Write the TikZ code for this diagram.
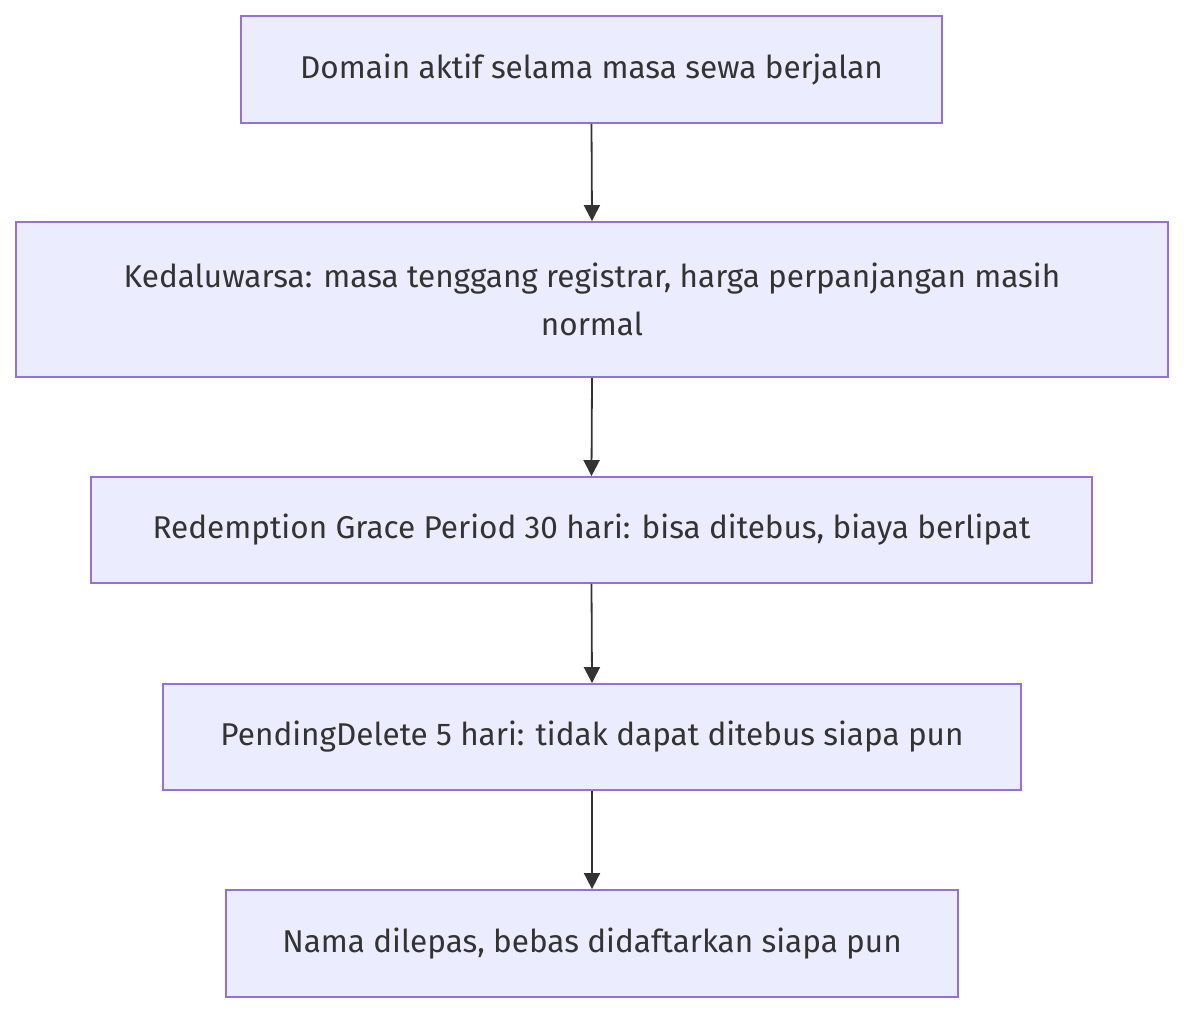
\documentclass[tikz,border=0pt]{standalone}
\usepackage{fontspec}
\setmainfont{Fira Sans}
\usetikzlibrary{arrows.meta}
\definecolor{boxfill}{HTML}{ECECFF}
\definecolor{boxline}{HTML}{9370DB}
\definecolor{txt}{HTML}{333333}
\begin{document}
\begin{tikzpicture}[x=1pt,y=-1pt,
  stepbox/.style={draw=boxline,fill=boxfill,line width=1.8pt,inner sep=0pt,text=txt,font=\fontsize{31.5}{48}\selectfont,align=center},
  flow/.style={draw=txt,line width=1.8pt,-{Triangle[length=16pt,width=16pt]}}]
\useasboundingbox (0,0) rectangle (1200,1027);
\node[stepbox,minimum width=701pt,minimum height=107pt] (a) at (591.5,69.5) {Domain aktif selama masa sewa berjalan};
\node[stepbox,minimum width=1152pt,minimum height=155pt] (b) at (592,299.5) {Kedaluwarsa: masa tenggang registrar, harga perpanjangan masih\\normal};
\node[stepbox,minimum width=1001pt,minimum height=106pt] (c) at (591.5,530) {Redemption Grace Period 30 hari: bisa ditebus, biaya berlipat};
\node[stepbox,minimum width=858pt,minimum height=106pt] (d) at (592,737) {PendingDelete 5 hari: tidak dapat ditebus siapa pun};
\node[stepbox,minimum width=732pt,minimum height=107pt] (e) at (592,943.5) {Nama dilepas, bebas didaftarkan siapa pun};
\draw[flow] (a.south) -- (b.north);
\draw[flow] (b.south) -- (c.north);
\draw[flow] (c.south) -- (d.north);
\draw[flow] (d.south) -- (e.north);
\end{tikzpicture}
\end{document}
